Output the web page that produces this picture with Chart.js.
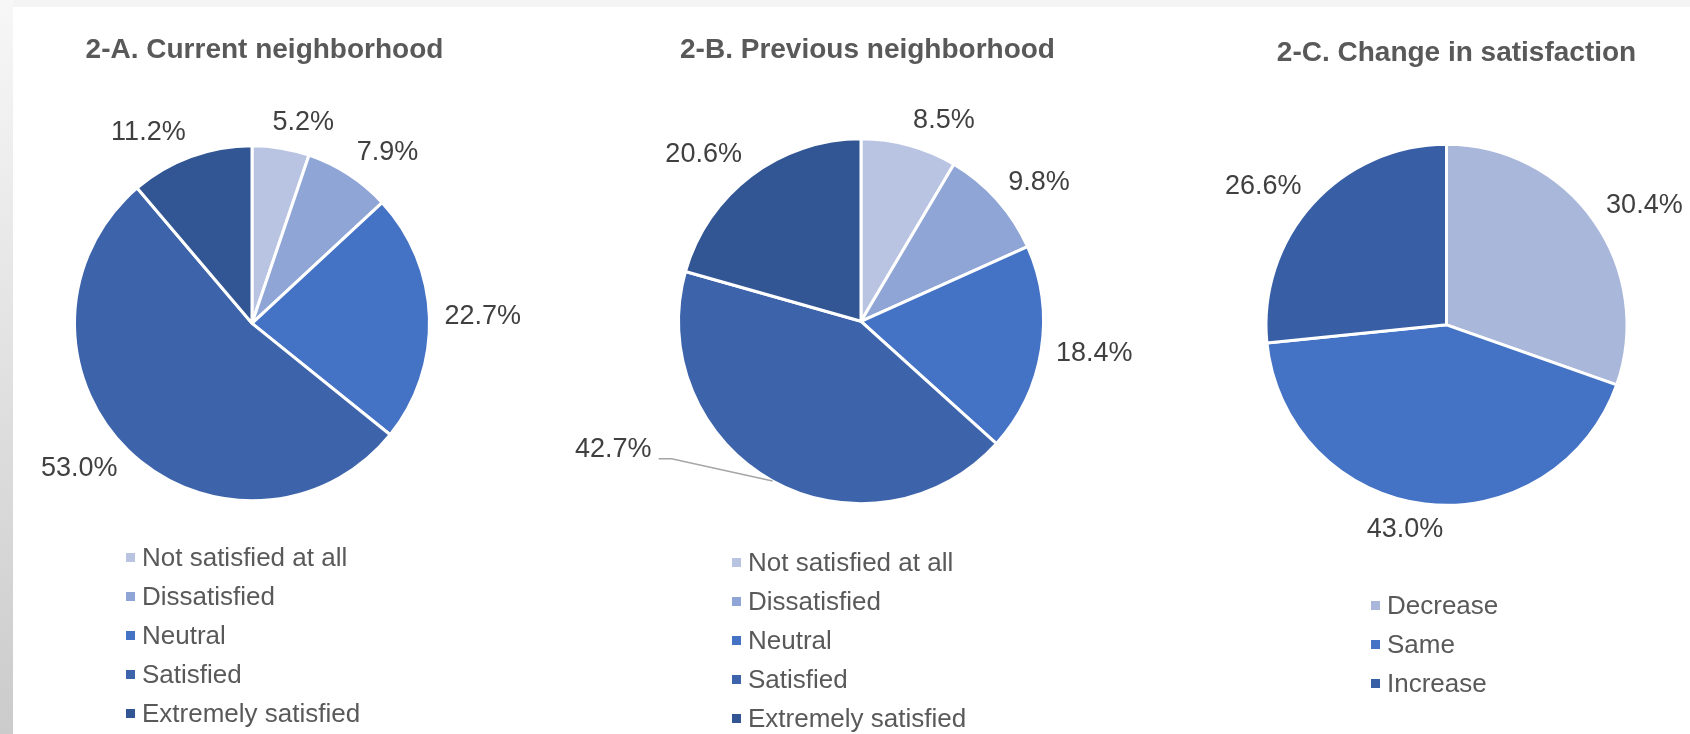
<!DOCTYPE html>
<html>
<head>
<meta charset="utf-8">
<title>Neighborhood satisfaction</title>
<script src="https://cdn.jsdelivr.net/npm/chart.js@4.4.1/dist/chart.umd.min.js"></script>
<style>
    html, body { margin: 0; padding: 0; background: #fff; }
    body { width: 1690px; height: 734px; position: relative; overflow: hidden; font-family: 'Liberation Sans', Arial, sans-serif; }
    .edge-top { position: absolute; left: 0; top: 0; width: 1690px; height: 7px; background: #f4f4f4; }
    .edge-left { position: absolute; left: 0; top: 0; width: 13px; height: 734px; background: linear-gradient(#f7f7f7, #cbcbcb); }
    canvas { position: absolute; top: 0; }
    .legend { position: absolute; margin: 0; padding: 0; list-style: none; color: #595959; font-size: 26px; }
    .legend li { display: flex; align-items: center; height: 39px; white-space: nowrap; }
    .legend .swatch { width: 9px; height: 9px; margin-right: 7px; flex: none; }
</style>
</head>
<body>
<div class="edge-top"></div>
<div class="edge-left"></div>

<canvas id="currentChart" width="560" height="734" style="left:0"></canvas>
<canvas id="previousChart" width="580" height="734" style="left:560px"></canvas>
<canvas id="changeChart" width="550" height="734" style="left:1140px"></canvas>

<ul class="legend" id="currentLegend" style="left:126px; top:538px;"></ul>
<ul class="legend" id="previousLegend" style="left:732px; top:543px;"></ul>
<ul class="legend" id="changeLegend" style="left:1371px; top:586px;"></ul>

<script>
/* ================================================================
   DATA (shares in %)
   ================================================================ */
const satisfactionLevels = ['Not satisfied at all', 'Dissatisfied', 'Neutral', 'Satisfied', 'Extremely satisfied'];
const currentShares  = [5.2, 7.9, 22.7, 53.0, 11.2];
const previousShares = [8.5, 9.8, 18.4, 42.7, 20.6];

const changeLevels = ['Decrease', 'Same', 'Increase'];
const changeShares = [30.4, 43.0, 26.6];

const satisfactionColors = ['#b9c4e3', '#8fa5d6', '#4472c4', '#3d64ab', '#325594'];
const changeColors = ['#a9b7da', '#4472c4', '#385fa6'];

const FONT = "'Liberation Sans', Arial, sans-serif";

/* ================================================================
   OUTSIDE LABELS (percent next to each slice)
   ================================================================ */
const sliceLabels = {
    id: 'sliceLabels',
    afterDatasetsDraw(chart, args, opts) {
        const ctx = chart.ctx;
        const meta = chart.getDatasetMeta(0);
        const values = chart.data.datasets[0].data;
        ctx.save();
        ctx.font = '27px ' + FONT;
        ctx.fillStyle = '#404040';
        ctx.textAlign = 'center';
        ctx.textBaseline = 'middle';
        meta.data.forEach((arc, i) => {
            const p = arc.getProps(['x', 'y', 'startAngle', 'endAngle', 'outerRadius'], true);
            const mid = (p.startAngle + p.endAngle) / 2;
            const ux = Math.cos(mid), uy = Math.sin(mid);
            const text = values[i].toFixed(1) + '%';
            const w = ctx.measureText(text).width;
            let cx, cy;
            const callout = opts.callout && opts.callout.index === i ? opts.callout : null;
            if (callout) {
                // label pulled away from the slice, with a leader line back to the edge
                const ex = p.x + p.outerRadius * ux, ey = p.y + p.outerRadius * uy;
                const right = ex + callout.dx * p.outerRadius;
                cy = ey + callout.dy * p.outerRadius;
                cx = right - w / 2;
                ctx.strokeStyle = '#a6a6a6';
                ctx.lineWidth = 1.5;
                ctx.beginPath();
                ctx.moveTo(right + 7, cy + 9);
                ctx.lineTo(right + 20, cy + 9);
                ctx.lineTo(ex, ey);
                ctx.stroke();
            } else {
                const d = p.outerRadius + opts.gap;
                cx = p.x + d * ux + Math.max(-1, Math.min(1, 4 * ux)) * w / 2;
                cy = p.y + d * uy + uy * opts.textHeight / 2;
            }
            ctx.fillText(text, cx, cy);
        });
        ctx.restore();
    }
};

// empty box on the right so the pie sits a little left of the centred title
function rightSpacer(width) {
    return {
        id: 'rightSpacer',
        beforeInit(chart) {
            Chart.layouts.addBox(chart, {
                position: 'right', weight: 0, fullSize: false,
                options: {},
                width: 0, height: 0,
                isHorizontal() { return false; },
                update(maxWidth, maxHeight) { this.width = width; this.height = maxHeight; },
                draw() {}
            });
        }
    };
}

/* ================================================================
   CHART BUILDER
   ================================================================ */
function makePie(canvasId, legendId, title, labels, values, colors, radius, padding, shift, callout) {
    const chart = new Chart(document.getElementById(canvasId), {
        type: 'pie',
        data: {
            labels: labels,
            datasets: [{ data: values, backgroundColor: colors, borderColor: '#ffffff', borderWidth: 3 }]
        },
        options: {
            responsive: false,
            animation: false,
            devicePixelRatio: 1,
            radius: radius,
            layout: { padding: padding },
            plugins: {
                legend: { display: false },
                tooltip: { enabled: false },
                title: {
                    display: true,
                    text: title,
                    color: '#595959',
                    font: { family: FONT, size: 28, weight: 'bold' },
                    padding: { top: 10, bottom: 10 }
                },
                sliceLabels: { gap: 15, textHeight: 22, callout: callout || null }
            }
        },
        plugins: [sliceLabels, rightSpacer(shift)]
    });

    // vertical legend as an HTML list, built from the chart's own legend items
    const ul = document.getElementById(legendId);
    chart.options.plugins.legend.labels.generateLabels(chart).forEach(item => {
        const li = document.createElement('li');
        const box = document.createElement('span');
        box.className = 'swatch';
        box.style.background = item.fillStyle;
        li.appendChild(box);
        li.appendChild(document.createTextNode(item.text));
        ul.appendChild(li);
    });
    return chart;
}

makePie('currentChart', 'currentLegend', '2-A. Current neighborhood',
    satisfactionLevels, currentShares, satisfactionColors, 177.5,
    { top: 23, bottom: 164, left: 0, right: 31 }, 25);

makePie('previousChart', 'previousLegend', '2-B. Previous neighborhood',
    satisfactionLevels, previousShares, satisfactionColors, 182.5,
    { top: 23, bottom: 168, left: 35, right: 0 }, 13,
    { index: 3, dx: -0.663, dy: -0.171 });

makePie('changeChart', 'changeLegend', '2-C. Change in satisfaction',
    changeLevels, changeShares, changeColors, 180.5,
    { top: 26, bottom: 164, left: 83, right: 0 }, 20);
</script>
</body>
</html>
